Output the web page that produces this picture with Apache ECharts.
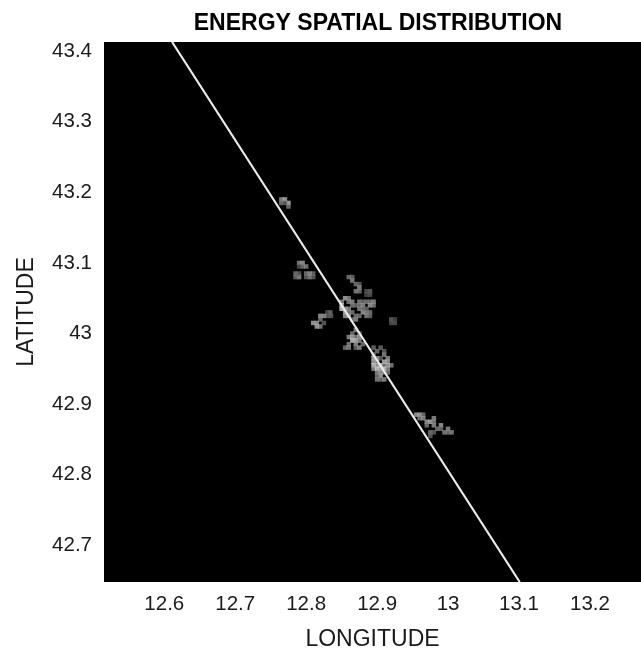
<!DOCTYPE html>
<html>
<head>
<meta charset="utf-8">
<style>
html, body { margin: 0; padding: 0; background: #fff; }
#chart { width: 641px; height: 649px; }
</style>
<script src="https://cdn.jsdelivr.net/npm/echarts@6/dist/echarts.min.js"></script>
</head>
<body>
<div id="chart"></div>
<script>
const xTicks = [12.6, 12.7, 12.8, 12.9, 13, 13.1, 13.2];
const yTicks = [42.7, 42.8, 42.9, 43, 43.1, 43.2, 43.3, 43.4];
// the bright straight line, ends
const lineLon = [12.611, 13.101];
const lineLat = [43.413, 42.648];
// energy cells: lon, lat, brightness 0-1
const northCells = [
  [12.765,43.19,.6],[12.77,43.19,.7],[12.765,43.185,.5],[12.775,43.185,.75],[12.775,43.18,.5],[12.77,43.185,.4]
];
const upperCells = [
  [12.79,43.10,.55],[12.795,43.10,.65],[12.795,43.095,.5],[12.80,43.095,.55],[12.79,43.095,.35],
  [12.785,43.085,.5],[12.79,43.08,.6],[12.785,43.08,.45],[12.79,43.085,.4],
  [12.80,43.085,.5],[12.805,43.08,.55],[12.81,43.085,.45],[12.805,43.085,.6],[12.80,43.08,.4],[12.81,43.08,.4]
];
const centerCells = [
  [12.86,43.08,.5],[12.865,43.08,.45],[12.865,43.075,.55],[12.87,43.07,.5],[12.875,43.07,.4],[12.875,43.065,.6],[12.87,43.06,.55],[12.875,43.06,.5],
  [12.89,43.06,.4],[12.885,43.055,.3],[12.885,43.06,.35],[12.89,43.055,.35],
  [12.85,43.045,.6],[12.855,43.05,.7],[12.86,43.045,.55],[12.865,43.045,.6],[12.87,43.04,.45],[12.875,43.045,.55],
  [12.86,43.05,.55],[12.865,43.04,.5],[12.875,43.04,.5],[12.88,43.045,.45],[12.89,43.045,.5],[12.895,43.045,.6],
  [12.88,43.04,.6],[12.885,43.045,.5],[12.89,43.04,.65],[12.895,43.04,.55],[12.85,43.04,.8],[12.855,43.035,.75],
  [12.85,43.035,.85],[12.855,43.03,.7],[12.86,43.035,.6],[12.855,43.025,.65],[12.86,43.025,.7],[12.865,43.03,.5],
  [12.875,43.035,.55],[12.88,43.03,.65],[12.885,43.03,.6],[12.875,43.025,.5],[12.885,43.025,.55],[12.89,43.03,.5],
  [12.88,43.035,.5],[12.885,43.035,.45],[12.86,43.03,.55],[12.89,43.025,.45],
  [12.87,43.02,.6],[12.865,43.02,.5],[12.87,43.025,.5],
  [12.834,43.03,.45],[12.83,43.025,.4],[12.835,43.025,.4],[12.83,43.03,.35],
  [12.92,43.02,.4],[12.925,43.015,.35],[12.92,43.015,.35],[12.925,43.02,.3],
  [12.82,43.025,.65],[12.825,43.025,.6],[12.82,43.02,.5],[12.81,43.015,.7],[12.815,43.015,.65],[12.82,43.01,.55],[12.815,43.01,.7],[12.825,43.015,.4]
];
const lowerCells = [
  [12.865,43.00,.5],[12.87,43.005,.6],[12.875,43.00,.45],[12.86,42.995,.6],[12.865,42.995,.7],[12.87,42.995,.55],
  [12.875,42.995,.65],[12.865,42.99,.8],[12.87,42.99,.75],[12.875,42.99,.6],[12.86,42.985,.55],[12.87,42.985,.6],
  [12.88,42.985,.5],[12.855,42.98,.5],[12.86,42.98,.55],[12.87,42.98,.45],[12.875,42.98,.6],
  [12.895,42.98,.45],[12.90,42.975,.5],[12.905,42.98,.45],[12.91,42.975,.4],[12.895,42.97,.5],
  [12.91,42.97,.55],[12.915,42.965,.6],[12.895,42.965,.75],[12.90,42.96,.5],[12.895,42.96,.7],[12.905,42.965,.4],[12.90,42.965,.6],
  [12.915,42.96,.65],[12.895,42.955,.85],[12.905,42.955,.9],[12.91,42.955,.5],[12.90,42.955,.7],[12.91,42.96,.75],
  [12.92,42.955,.55],[12.895,42.95,.6],[12.90,42.95,.85],[12.91,42.95,.9],[12.915,42.95,.6],[12.905,42.95,.75],[12.915,42.955,.7],
  [12.90,42.945,.6],[12.905,42.94,.7],[12.915,42.945,.5],[12.90,42.935,.55],[12.91,42.935,.6],[12.905,42.945,.65],[12.91,42.945,.6],[12.90,42.94,.5],[12.905,42.935,.5]
];
const southCells = [
  [12.955,42.885,.65],[12.96,42.885,.7],[12.965,42.885,.5],[12.96,42.88,.55],[12.965,42.88,.6],[12.97,42.875,.65],
  [12.975,42.875,.7],[12.98,42.88,.6],[12.97,42.87,.5],[12.98,42.87,.6],[12.98,42.875,.55],
  [12.975,42.86,.5],[12.98,42.86,.4],[12.975,42.855,.4],
  [12.99,42.87,.65],[12.985,42.865,.5],[12.99,42.865,.45],[12.995,42.86,.55],[13.00,42.865,.6],[13.005,42.86,.55],[13.00,42.86,.5]
];
const energyCells = [...northCells, ...upperCells, ...centerCells, ...lowerCells, ...southCells];

const chart = echarts.init(document.getElementById('chart'), null, { renderer: 'canvas' });
const fontFamily = '"Liberation Sans", Arial, sans-serif';
chart.setOption({
  animation: false,
  backgroundColor: '#fff',
  title: {
    text: 'ENERGY SPATIAL DISTRIBUTION',
    left: 373,
    top: 7,
    textAlign: 'center',
    textStyle: { fontFamily: fontFamily, fontSize: 23, fontWeight: 'bold', color: '#000' }
  },
  grid: { left: 104, right: 0, top: 42, bottom: 67, backgroundColor: '#000', show: true, borderWidth: 0, outerBoundsMode: 'none' },
  xAxis: {
    type: 'value',
    min: 12.515,
    max: 13.272,
    name: 'LONGITUDE',
    nameLocation: 'middle',
    nameGap: 46,
    nameTextStyle: { fontFamily: fontFamily, fontSize: 23, color: '#1a1a1a' },
    splitLine: { show: false },
    axisLine: { show: false },
    axisTick: { show: false },
    axisLabel: {
      customValues: xTicks,
      margin: 12,
      fontFamily: fontFamily,
      fontSize: 20.5,
      color: '#1a1a1a',
      formatter: function (v) { return String(v); }
    }
  },
  yAxis: {
    type: 'value',
    min: 42.648,
    max: 43.413,
    name: 'LATITUDE',
    nameLocation: 'middle',
    nameGap: 66,
    nameTextStyle: { fontFamily: fontFamily, fontSize: 23, color: '#1a1a1a' },
    splitLine: { show: false },
    axisLine: { show: false },
    axisTick: { show: false },
    axisLabel: {
      customValues: yTicks,
      margin: 12,
      fontFamily: fontFamily,
      fontSize: 20.5,
      color: '#1a1a1a',
      formatter: function (v) { return String(v); }
    }
  },
  visualMap: {
    show: false,
    seriesIndex: 0,
    dimension: 2,
    min: 0,
    max: 1,
    inRange: { color: ['#000000', '#ffffff'] }
  },
  series: [
    {
      type: 'scatter',
      symbol: 'rect',
      symbolSize: 4.5,
      data: energyCells
    },
    {
      type: 'line',
      symbol: 'none',
      lineStyle: { color: '#ececec', width: 2.2 },
      data: lineLon.map(function (lon, i) { return [lon, lineLat[i]]; })
    }
  ]
});
</script>
</body>
</html>
